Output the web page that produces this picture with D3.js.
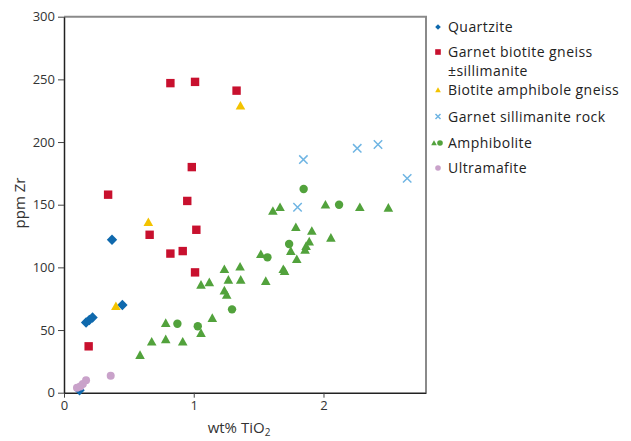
<!DOCTYPE html>
<html>
<head>
<meta charset="utf-8">
<script src="https://cdn.jsdelivr.net/npm/d3@7"></script>
<style>
  body { margin: 0; background: #fff; }
  svg { display: block; font-family: "Open Sans", Lato, sans-serif; }
</style>
</head>
<body>
<div id="chart"></div>
<script>
"use strict";

// Series values: [wt% TiO2, ppm Zr]
const quartzite = [[0.12, 2], [0.17, 56], [0.195, 58], [0.22, 60], [0.37, 122], [0.45, 70]];
const garnetBiotite = [
    [0.82, 247], [1.01, 248], [1.33, 241], [0.985, 180], [0.34, 158], [0.95, 153],
    [1.02, 130], [0.66, 126], [0.82, 111], [0.915, 113], [1.01, 96], [0.19, 37]
];
const biotiteAmphibole = [[1.36, 229], [0.65, 136], [0.40, 69]];
const garnetSillimanite = [[1.845, 186], [2.26, 195], [2.42, 198], [1.80, 148], [2.645, 171]];
const amphiboliteCircles = [
    [1.847, 162.5], [2.12, 150], [1.735, 118.6], [1.568, 108], [1.295, 66.5],
    [0.874, 55], [1.031, 53]
];
const amphiboliteTriangles = [
    [1.61, 145], [1.665, 148], [2.015, 150], [2.28, 148], [2.50, 147.5],
    [1.787, 132], [1.91, 129], [2.057, 123.5], [1.89, 120.5], [1.866, 117],
    [1.858, 114], [1.748, 113], [1.794, 106.5], [1.517, 110.5], [1.69, 98.5],
    [1.70, 97], [1.236, 98.5], [1.357, 100.5], [1.267, 90], [1.362, 90],
    [1.555, 89], [1.056, 86], [1.12, 88], [1.236, 81.5], [1.254, 78],
    [1.143, 59.5], [0.784, 55.5], [1.056, 47.5], [0.676, 40.7], [0.784, 42.6],
    [0.915, 40.7], [0.586, 30]
];
const ultramafite = [[0.10, 4], [0.125, 5], [0.145, 7], [0.17, 10], [0.36, 13.5]];

const xTicks = [0, 1, 2];
const yTicks = [0, 50, 100, 150, 200, 250, 300];
const legendLabels = [
    ["Quartzite"],
    ["Garnet biotite gneiss", "\u00b1sillimanite"],
    ["Biotite amphibole gneiss"],
    ["Garnet sillimanite rock"],
    ["Amphibolite"],
    ["Ultramafite"]
];

const BLUE = "#0f69ad";
const RED = "#c8102e";
const YELLOW = "#f3c300";
const LIGHTBLUE = "#6fb5e3";
const GREEN = "#52a23c";
const PINK = "#c9a2ca";


/*
 * ============================================================================
 * Markers
 * ============================================================================
 */

function marker(g, kind, s, color) {
    switch (kind) {
        case "diamond":
            g.append("path")
                .attr("d", `M0,${-s}L${s},0L0,${s}L${-s},0Z`)
                .attr("fill", color);
            break;
        case "square":
            g.append("rect")
                .attr("x", -s).attr("y", -s)
                .attr("width", 2 * s).attr("height", 2 * s)
                .attr("fill", color);
            break;
        case "triangle":
            g.append("path")
                .attr("d", `M0,${-s}L${s},${0.8 * s}L${-s},${0.8 * s}Z`)
                .attr("fill", color);
            break;
        case "circle":
            g.append("circle")
                .attr("r", s)
                .attr("fill", color);
            break;
        case "cross":
            g.append("path")
                .attr("d", `M${-s},${-s}L${s},${s}M${s},${-s}L${-s},${s}`)
                .attr("stroke", color)
                .attr("stroke-width", 1.5)
                .attr("fill", "none");
            break;
    }
}


/*
 * ============================================================================
 * Plot
 * ============================================================================
 */

const WIDTH = 631;
const HEIGHT = 441;
const LEFT = 64, RIGHT = 426, TOP = 16.7, BOTTOM = 392.7;

const svg = d3.select("#chart")
  .append("svg")
    .attr("width", WIDTH)
    .attr("height", HEIGHT);

const xscale = d3.scaleLinear().domain([0, 2.79]).range([LEFT, RIGHT]);
const yscale = d3.scaleLinear().domain([0, 300]).range([BOTTOM, TOP]);

// Frame: grey top and right edges
svg.append("path")
    .attr("d", `M${LEFT},${TOP}H${RIGHT}V${BOTTOM}`)
    .attr("fill", "none")
    .attr("stroke", "#8a8a8a")
    .attr("stroke-width", 2);

const xaxis = svg.append("g")
    .attr("transform", `translate(0,${BOTTOM})`)
    .call(d3.axisBottom(xscale).tickValues(xTicks).tickFormat(d3.format("d"))
        .tickSize(5).tickSizeOuter(0).tickPadding(3));

const yaxis = svg.append("g")
    .attr("transform", `translate(${LEFT},0)`)
    .call(d3.axisLeft(yscale).tickValues(yTicks).tickFormat(d3.format("d"))
        .tickSize(6).tickSizeOuter(0).tickPadding(3));

[xaxis, yaxis].forEach(ax => {
    ax.select(".domain").attr("stroke", "#222").attr("stroke-width", 1.5);
    ax.selectAll(".tick line").attr("stroke", "#444");
    ax.selectAll(".tick text")
        .attr("fill", "#333")
        .style("font-size", "13px")
        .style("font-family", "'Open Sans', sans-serif");
});

// Axis titles
svg.append("text")
    .attr("x", 239)
    .attr("y", 433)
    .attr("text-anchor", "middle")
    .attr("fill", "#333")
    .style("font-size", "15px")
    .text("wt% TiO")
  .append("tspan")
    .attr("dy", 3)
    .style("font-size", "10px")
    .text("2");

svg.append("text")
    .attr("transform", "translate(25,203) rotate(-90)")
    .attr("text-anchor", "middle")
    .attr("fill", "#333")
    .style("font-size", "15px")
    .text("ppm Zr");

// Points
const series = [
    { data: quartzite, kind: "diamond", size: 5.2, color: BLUE },
    { data: garnetBiotite, kind: "square", size: 4.2, color: RED },
    { data: biotiteAmphibole, kind: "triangle", size: 4.8, color: YELLOW },
    { data: garnetSillimanite, kind: "cross", size: 4.2, color: LIGHTBLUE },
    { data: amphiboliteTriangles, kind: "triangle", size: 4.8, color: GREEN },
    { data: amphiboliteCircles, kind: "circle", size: 4.2, color: GREEN },
    { data: ultramafite, kind: "circle", size: 4, color: PINK }
];

series.forEach(s => {
    svg.append("g")
      .selectAll("g")
      .data(s.data)
      .join("g")
        .attr("transform", d => `translate(${xscale(d[0])},${yscale(d[1])})`)
        .each(function() { marker(d3.select(this), s.kind, s.size, s.color); });
});

// Legend
const legendMarkers = [
    [["diamond", BLUE, 0]],
    [["square", RED, 0]],
    [["triangle", YELLOW, 0]],
    [["cross", LIGHTBLUE, 0]],
    [["triangle", GREEN, -4], ["circle", GREEN, 2]],
    [["circle", PINK, 0]]
];
const legendY = [27, 52, 90, 116.5, 143, 168];

const legend = svg.append("g");
legendLabels.forEach((lines, i) => {
    const row = legend.append("g").attr("transform", `translate(438,${legendY[i]})`);
    legendMarkers[i].forEach(([kind, color, dx]) => {
        const m = row.append("g").attr("transform", `translate(${dx},0)`);
        marker(m, kind, kind === "cross" ? 2.5 : 2.8, color);
    });
    lines.forEach((line, j) => {
        row.append("text")
            .attr("x", 10)
            .attr("y", 5 + 19.2 * j)
            .attr("fill", "#222")
            .style("font-size", "14px")
            .style("letter-spacing", "0.45px")
            .text(line);
    });
});
</script>
</body>
</html>
